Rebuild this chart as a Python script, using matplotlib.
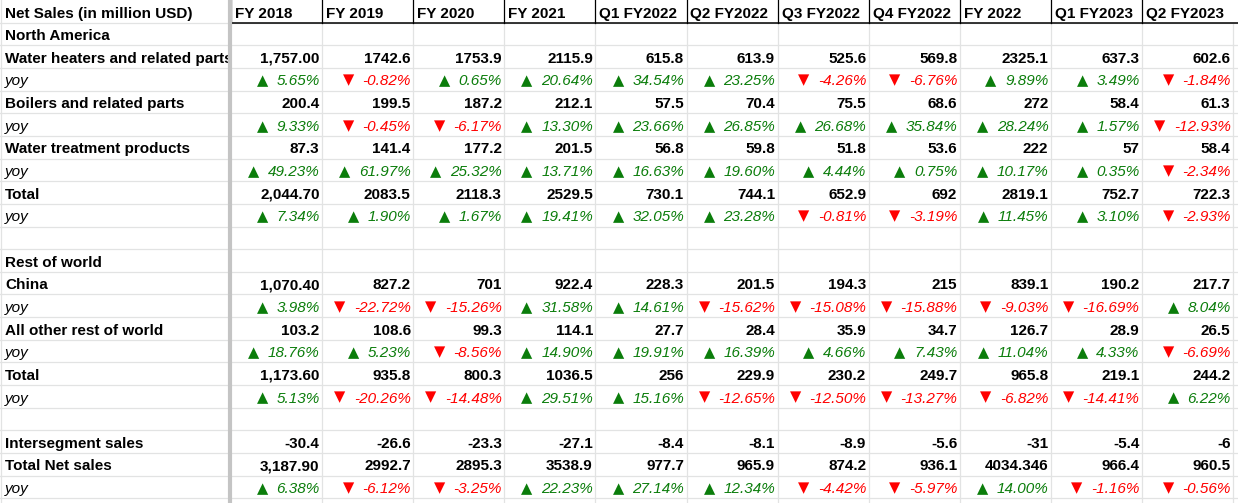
import matplotlib
matplotlib.use("Agg")
import matplotlib.pyplot as plt
from matplotlib.patches import Rectangle

plt.rcParams['font.family'] = ['Liberation Sans', 'DejaVu Sans']

# ---- table data ----
columns = ['FY 2018', 'FY 2019', 'FY 2020', 'FY 2021', 'Q1 FY2022', 'Q2 FY2022',
           'Q3 FY2022', 'Q4 FY2022', 'FY 2022', 'Q1 FY2023', 'Q2 FY2023']
header_label = 'Net Sales (in million USD)'

water_heaters = ['1,757.00', '1742.6', '1753.9', '2115.9', '615.8', '613.9', '525.6', '569.8', '2325.1', '637.3', '602.6']
water_heaters_yoy = [5.65, -0.82, 0.65, 20.64, 34.54, 23.25, -4.26, -6.76, 9.89, 3.49, -1.84]
boilers = ['200.4', '199.5', '187.2', '212.1', '57.5', '70.4', '75.5', '68.6', '272', '58.4', '61.3']
boilers_yoy = [9.33, -0.45, -6.17, 13.30, 23.66, 26.85, 26.68, 35.84, 28.24, 1.57, -12.93]
water_treatment = ['87.3', '141.4', '177.2', '201.5', '56.8', '59.8', '51.8', '53.6', '222', '57', '58.4']
water_treatment_yoy = [49.23, 61.97, 25.32, 13.71, 16.63, 19.60, 4.44, 0.75, 10.17, 0.35, -2.34]
na_total = ['2,044.70', '2083.5', '2118.3', '2529.5', '730.1', '744.1', '652.9', '692', '2819.1', '752.7', '722.3']
na_total_yoy = [7.34, 1.90, 1.67, 19.41, 32.05, 23.28, -0.81, -3.19, 11.45, 3.10, -2.93]
china = ['1,070.40', '827.2', '701', '922.4', '228.3', '201.5', '194.3', '215', '839.1', '190.2', '217.7']
china_yoy = [3.98, -22.72, -15.26, 31.58, 14.61, -15.62, -15.08, -15.88, -9.03, -16.69, 8.04]
other_row = ['103.2', '108.6', '99.3', '114.1', '27.7', '28.4', '35.9', '34.7', '126.7', '28.9', '26.5']
other_row_yoy = [18.76, 5.23, -8.56, 14.90, 19.91, 16.39, 4.66, 7.43, 11.04, 4.33, -6.69]
row_total = ['1,173.60', '935.8', '800.3', '1036.5', '256', '229.9', '230.2', '249.7', '965.8', '219.1', '244.2']
row_total_yoy = [5.13, -20.26, -14.48, 29.51, 15.16, -12.65, -12.50, -13.27, -6.82, -14.41, 6.22]
intersegment = ['-30.4', '-26.6', '-23.3', '-27.1', '-8.4', '-8.1', '-8.9', '-5.6', '-31', '-5.4', '-6']
total_net = ['3,187.90', '2992.7', '2895.3', '3538.9', '977.7', '965.9', '874.2', '936.1', '4034.346', '966.4', '960.5']
total_net_yoy = [6.38, -6.12, -3.25, 22.23, 27.14, 12.34, -4.42, -5.97, 14.00, -1.16, -0.56]

# (label, kind, values)  kind: section / value / yoy / blank
rows = [
    ('North America', 'section', None),
    ('Water heaters and related parts', 'value', water_heaters),
    ('yoy', 'yoy', water_heaters_yoy),
    ('Boilers and related parts', 'value', boilers),
    ('yoy', 'yoy', boilers_yoy),
    ('Water treatment products', 'value', water_treatment),
    ('yoy', 'yoy', water_treatment_yoy),
    ('Total', 'value', na_total),
    ('yoy', 'yoy', na_total_yoy),
    ('', 'blank', None),
    ('Rest of world', 'section', None),
    ('China', 'value', china),
    ('yoy', 'yoy', china_yoy),
    ('All other rest of world', 'value', other_row),
    ('yoy', 'yoy', other_row_yoy),
    ('Total', 'value', row_total),
    ('yoy', 'yoy', row_total_yoy),
    ('', 'blank', None),
    ('Intersegment sales', 'value', intersegment),
    ('Total Net sales', 'value', total_net),
    ('yoy', 'yoy', total_net_yoy),
]

# ---- layout (pixels) ----
W, H = 1238, 503
row_h = 22.65
first_w = 231
col_w = 91.1
FS = 11
GREEN = '#0b7d0b'
RED = '#ff0000'
GRID = '#e2e3e3'

fig = plt.figure(figsize=(W / 100, H / 100), dpi=100)
ax = fig.add_axes([0, 0, 1, 1])
ax.set_xlim(0, W)
ax.set_ylim(H, 0)
ax.axis('off')

n_rows = len(rows) + 1
col_edges = [first_w + i * col_w for i in range(len(columns) + 1)]

# grid lines
for i in range(1, n_rows + 1):
    y = i * row_h
    ax.plot([0, W], [y, y], color=GRID, lw=0.9, zorder=1)
for x in col_edges[1:]:
    ax.plot([x, x], [row_h, H], color=GRID, lw=0.9, zorder=1)
ax.plot([0.5, 0.5], [0, H], color=GRID, lw=0.9, zorder=1)

# header row borders
ax.plot([first_w, W], [row_h, row_h], color='black', lw=1.1, zorder=3)
for x in col_edges[:-1]:
    ax.plot([x, x], [0, row_h], color='black', lw=0.9, zorder=3)
# frozen column divider
ax.plot([first_w - 1, first_w - 1], [0, H], color='#c4c4c4', lw=3, zorder=4)

# header
ax.text(5, 17.7, header_label, fontsize=FS, fontweight='bold', ha='left', va='baseline')
for j, name in enumerate(columns):
    ax.text(col_edges[j] + 4, 17.7, name, fontsize=FS, fontweight='bold', ha='left', va='baseline')

yoy_texts = []
for i, (label, kind, vals) in enumerate(rows):
    r = i + 1
    yb = r * row_h + 17.5
    if kind == 'blank':
        continue
    if kind == 'yoy':
        ax.text(5, yb, label, fontsize=FS, style='italic', ha='left', va='baseline')
        for j, v in enumerate(vals):
            up = v >= 0
            t = ax.text(col_edges[j + 1] - 2.5, yb, '%.2f%%' % v, fontsize=FS, style='italic',
                        color=GREEN if up else RED, ha='right', va='baseline')
            yoy_texts.append((t, up, yb))
    else:
        txt = ax.text(5, yb, label, fontsize=FS, fontweight='bold', ha='left', va='baseline')
        txt.set_clip_path(Rectangle((0, r * row_h), first_w - 2, row_h, transform=ax.transData))
        if vals is not None:
            for j, v in enumerate(vals):
                ax.text(col_edges[j + 1] - 2.5, yb, v, fontsize=FS, fontweight='bold',
                        ha='right', va='baseline')

# arrows placed just left of each yoy number
fig.canvas.draw()
renderer = fig.canvas.get_renderer()
inv = ax.transData.inverted()
for t, up, yb in yoy_texts:
    bb = t.get_window_extent(renderer)
    x_left = inv.transform((bb.x0, bb.y0))[0]
    ax.text(x_left - 8.5, yb if up else yb - 1, '\u25B2' if up else '\u25BC', family='DejaVu Sans',
            fontsize=10.5, color=GREEN if up else RED, ha='right', va='baseline')

fig.savefig('out.png', dpi=100, facecolor='white')
